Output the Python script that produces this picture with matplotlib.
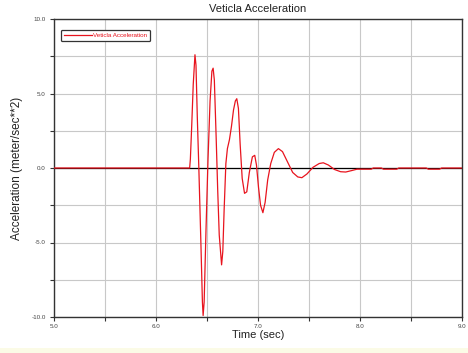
import matplotlib
matplotlib.use('Agg')
import matplotlib.pyplot as plt
from matplotlib.patches import Rectangle
from matplotlib.ticker import MultipleLocator, FormatStrFormatter

# values
time_sec = [5.00, 6.330, 6.337, 6.350, 6.365, 6.382, 6.392, 6.405, 6.420, 6.440,
            6.455, 6.462, 6.472, 6.490, 6.510, 6.530, 6.548, 6.560, 6.572, 6.590,
            6.605, 6.620, 6.643, 6.655, 6.668, 6.685, 6.700, 6.720, 6.740, 6.760,
            6.778, 6.792, 6.808, 6.825, 6.845, 6.868, 6.890, 6.915, 6.945, 6.968,
            6.985, 7.005, 7.025, 7.048, 7.070, 7.095, 7.125, 7.160, 7.200, 7.240,
            7.290, 7.340, 7.390, 7.430, 7.480, 7.540, 7.600, 7.640, 7.690, 7.750,
            7.810, 7.860, 7.920, 7.970, 7.990, 8.110, 8.130, 8.210, 8.230, 8.360,
            8.380, 8.650, 8.670, 8.780, 8.800, 9.00]
accel = [0.0, 0.0, 0.6, 2.8, 5.6, 7.6, 6.9, 3.4, 0.0, -5.0,
         -9.0, -9.9, -9.0, -4.2, 0.6, 4.5, 6.5, 6.7, 5.9, 2.0,
         -1.5, -4.5, -6.5, -5.6, -2.8, 0.3, 1.3, 1.9, 2.8, 3.9,
         4.5, 4.65, 4.0, 1.6, -0.7, -1.7, -1.6, -0.3, 0.75, 0.85,
         0.2, -1.3, -2.5, -3.0, -2.3, -0.8, 0.3, 1.05, 1.3, 1.1,
         0.4, -0.3, -0.6, -0.65, -0.4, 0.05, 0.3, 0.35, 0.2, -0.1,
         -0.25, -0.27, -0.17, -0.08, -0.08, -0.08, 0.0, 0.0, -0.08, -0.08,
         0.0, 0.0, -0.08, -0.08, 0.0, 0.0]

series_name = 'Veticla Acceleration'
x_ticks = [5.0, 6.0, 7.0, 8.0, 9.0]
y_ticks = [-10.0, -5.0, 0.0, 5.0, 10.0]

plt.rcParams['font.family'] = ['Liberation Sans', 'DejaVu Sans']

fig = plt.figure(figsize=(4.68, 3.53), dpi=100)
ax = fig.add_axes([54 / 468, 1 - 317 / 353, 408 / 468, 298 / 353])

# pale strip at the bottom of the window
fig.patches.append(Rectangle((0, 0), 1, 5 / 353, transform=fig.transFigure,
                             facecolor='#fbfbe6', edgecolor='none'))

ax.axhline(0, color='black', lw=0.9, zorder=2)
ax.plot(time_sec, accel, color='#e8141e', lw=0.9, label=series_name, zorder=3)

ax.set_xlim(5.0, 9.0)
ax.set_ylim(-10.0, 10.0)
ax.set_xticks(x_ticks)
ax.set_yticks(y_ticks)
ax.xaxis.set_minor_locator(MultipleLocator(0.5))
ax.yaxis.set_minor_locator(MultipleLocator(2.5))
ax.xaxis.set_major_formatter(FormatStrFormatter('%.1f'))
ax.yaxis.set_major_formatter(FormatStrFormatter('%.1f'))
ax.grid(True, which='both', color='#c8c8c8', lw=0.8, zorder=1)
ax.set_axisbelow(True)

ax.tick_params(which='both', direction='out', length=3, width=0.8,
               color='#333333', labelsize=4.5, labelcolor='#444444', pad=2)
ax.tick_params(axis='y', pad=3)
for sp in ax.spines.values():
    sp.set_color('#333333')
    sp.set_linewidth(1.0)

ax.set_title('Veticla Acceleration', fontsize=8, color='#222222', pad=5)
ax.set_xlabel('Time (sec)', fontsize=8, color='#222222', labelpad=1)
ax.set_ylabel('Acceleration (meter/sec**2)', fontsize=8.5, color='#222222', labelpad=6)

leg = ax.legend(loc='upper left', bbox_to_anchor=(0.01, 0.975), fontsize=4.5,
                handlelength=4.5, handletextpad=0.1, borderpad=0.5,
                fancybox=True, framealpha=1, labelcolor='#e8141e')
leg.get_frame().set_edgecolor('#333333')
leg.get_frame().set_linewidth(0.9)

fig.savefig('out.png', dpi=100)
